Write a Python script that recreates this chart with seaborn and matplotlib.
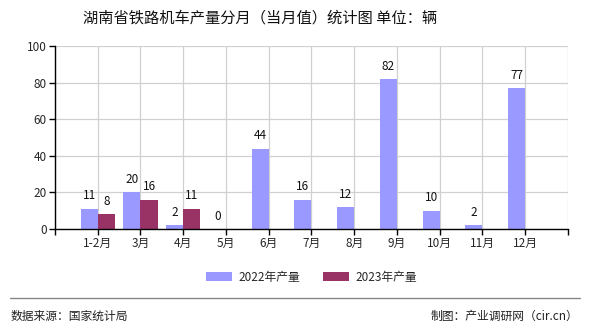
import numpy as np
import pandas as pd
import matplotlib
matplotlib.use("Agg")
import matplotlib.pyplot as plt
import seaborn as sns

months = ["1-2月", "3月", "4月", "5月", "6月", "7月", "8月", "9月", "10月", "11月", "12月"]
prod_2022 = [11, 20, 2, 0, 44, 16, 12, 82, 10, 2, 77]
prod_2023 = [8, 16, 11, None, None, None, None, None, None, None, None]
series_names = ["2022年产量", "2023年产量"]
colors = ["#9999FF", "#993366"]
yticks = [0, 20, 40, 60, 80, 100]

sns.set_theme(style="white")
plt.rcParams["font.family"] = ["Noto Sans CJK SC", "DejaVu Sans"]

df = pd.DataFrame({
    "月份": months * 2,
    "产量": prod_2022 + prod_2023,
    "系列": [series_names[0]] * len(months) + [series_names[1]] * len(months),
})

fig = plt.figure(figsize=(5.9, 3.3), dpi=100)
ax = fig.add_axes([0.0932, 0.306, 0.8695, 0.5545])

sns.barplot(data=df, x="月份", y="产量", hue="系列", order=months,
            hue_order=series_names, palette=colors, width=0.8,
            saturation=1, linewidth=0, edgecolor="none", ax=ax, legend=True)

# value labels above each bar
for container, vals in zip(ax.containers, [prod_2022, prod_2023]):
    for bar, v in zip(container, vals):
        if v is None or (isinstance(v, float) and np.isnan(v)):
            continue
        ax.text(bar.get_x() + bar.get_width() / 2, v + 3.5, f"{int(v)}",
                ha="center", va="bottom", fontsize=8.5, color="#111111")

ax.set_xlim(-1, len(months))
ax.set_ylim(0, 100)
ax.set_yticks(yticks)
ax.set_yticklabels([str(t) for t in yticks], fontsize=8.5)
ax.set_xticks(range(-1, len(months) + 1))
ax.set_xticklabels([""] + months + [""], fontsize=8.5)
ax.set_xlabel("")
ax.set_ylabel("")

ax.grid(True, color="#d0d0d0", linewidth=0.9)
ax.set_axisbelow(True)
for s in ["top", "right"]:
    ax.spines[s].set_visible(False)
for s in ["left", "bottom"]:
    ax.spines[s].set_color("black")
    ax.spines[s].set_linewidth(1.0)
ax.tick_params(axis="both", which="both", length=4, width=1, color="black",
               direction="out", bottom=True, left=True, pad=2)

leg = ax.legend(loc="upper center", bbox_to_anchor=(0.5, -0.17), ncol=2,
                frameon=False, fontsize=8.5, handlelength=2.2, handleheight=0.8,
                columnspacing=2.0, handletextpad=0.5)

fig.text(0.441, 0.945, "湖南省铁路机车产量分月（当月值）统计图 单位：辆",
         ha="center", va="center", fontsize=11, color="#111111")

fig.add_artist(plt.Line2D([0.017, 0.983], [0.097, 0.097],
                          transform=fig.transFigure, color="#888888", linewidth=1.0))
fig.text(0.018, 0.042, "数据来源：国家统计局", ha="left", va="center",
         fontsize=8.5, color="#222222")
fig.text(0.98, 0.042, "制图：产业调研网（cir.cn）", ha="right", va="center",
         fontsize=8.5, color="#222222")

fig.savefig("out.png", dpi=100)
